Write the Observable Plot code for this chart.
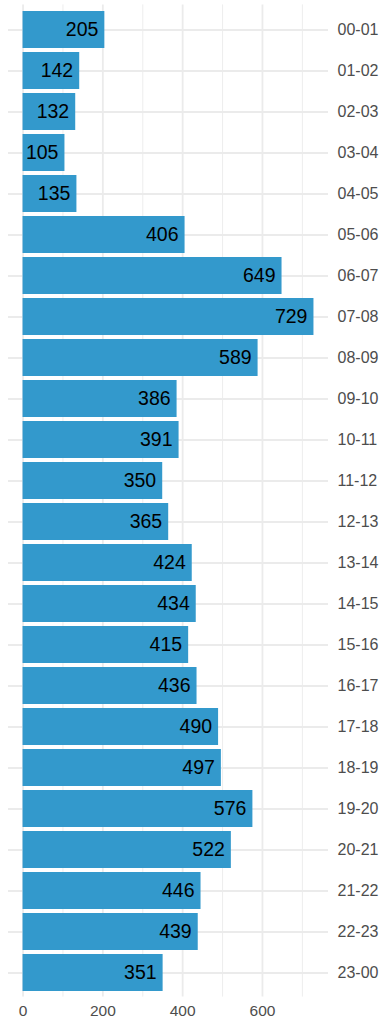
<!DOCTYPE html>
<html>
<head>
<meta charset="utf-8">
<script src="https://cdn.jsdelivr.net/npm/d3@7"></script>
<script src="https://cdn.jsdelivr.net/npm/@observablehq/plot@0.6"></script>
<style>
  html, body { margin: 0; padding: 0; background: #fff; }
  #chart svg { display: block; font-family: "Liberation Sans", Arial, sans-serif; }
</style>
</head>
<body>
<div id="chart"></div>
<script>
const hours = ["00-01","01-02","02-03","03-04","04-05","05-06","06-07","07-08","08-09","09-10","10-11","11-12",
               "12-13","13-14","14-15","15-16","16-17","17-18","18-19","19-20","20-21","21-22","22-23","23-00"];
const counts = [205,142,132,105,135,406,649,729,589,386,391,350,365,424,434,415,436,490,497,576,522,446,439,351];
const majorTicks = [0,200,400,600];
const minorTicks = [100,300,500,700];

const data = hours.map((h, i) => ({hour: h, count: counts[i]}));
const maxV = d3.max(counts);
const pad = maxV * 0.05;

const chart = Plot.plot({
  width: 389,
  height: 1019,
  marginLeft: 8,
  marginRight: 61,
  marginTop: 4.4,
  marginBottom: 22.4,
  style: {fontFamily: "'Liberation Sans', Arial, sans-serif", background: "#fff"},
  x: {domain: [-pad, maxV + pad]},
  y: {domain: hours, paddingInner: 0.1, paddingOuter: 0.15},
  marks: [
    Plot.ruleX(minorTicks, {stroke: "#ebebeb", strokeWidth: 0.9}),
    Plot.ruleX(majorTicks, {stroke: "#ebebeb", strokeWidth: 1.8}),
    Plot.gridY({stroke: "#ebebeb", strokeOpacity: 1, strokeWidth: 1.8}),
    Plot.barX(data, {x: "count", y: "hour", fill: "#3399cc"}),
    Plot.text(data, {x: "count", y: "hour", text: d => String(d.count), textAnchor: "end", dx: -6.5,
                     fontSize: 19.5, fill: "#000"}),
    Plot.axisY({anchor: "right", tickSize: 0, tickPadding: 9, fontSize: 16, color: "#4d4d4d", label: null}),
    Plot.axisX({ticks: majorTicks, tickSize: 0, tickPadding: 8, fontSize: 15.5, color: "#4d4d4d", label: null})
  ]
});
document.getElementById("chart").appendChild(chart);
</script>
</body>
</html>
